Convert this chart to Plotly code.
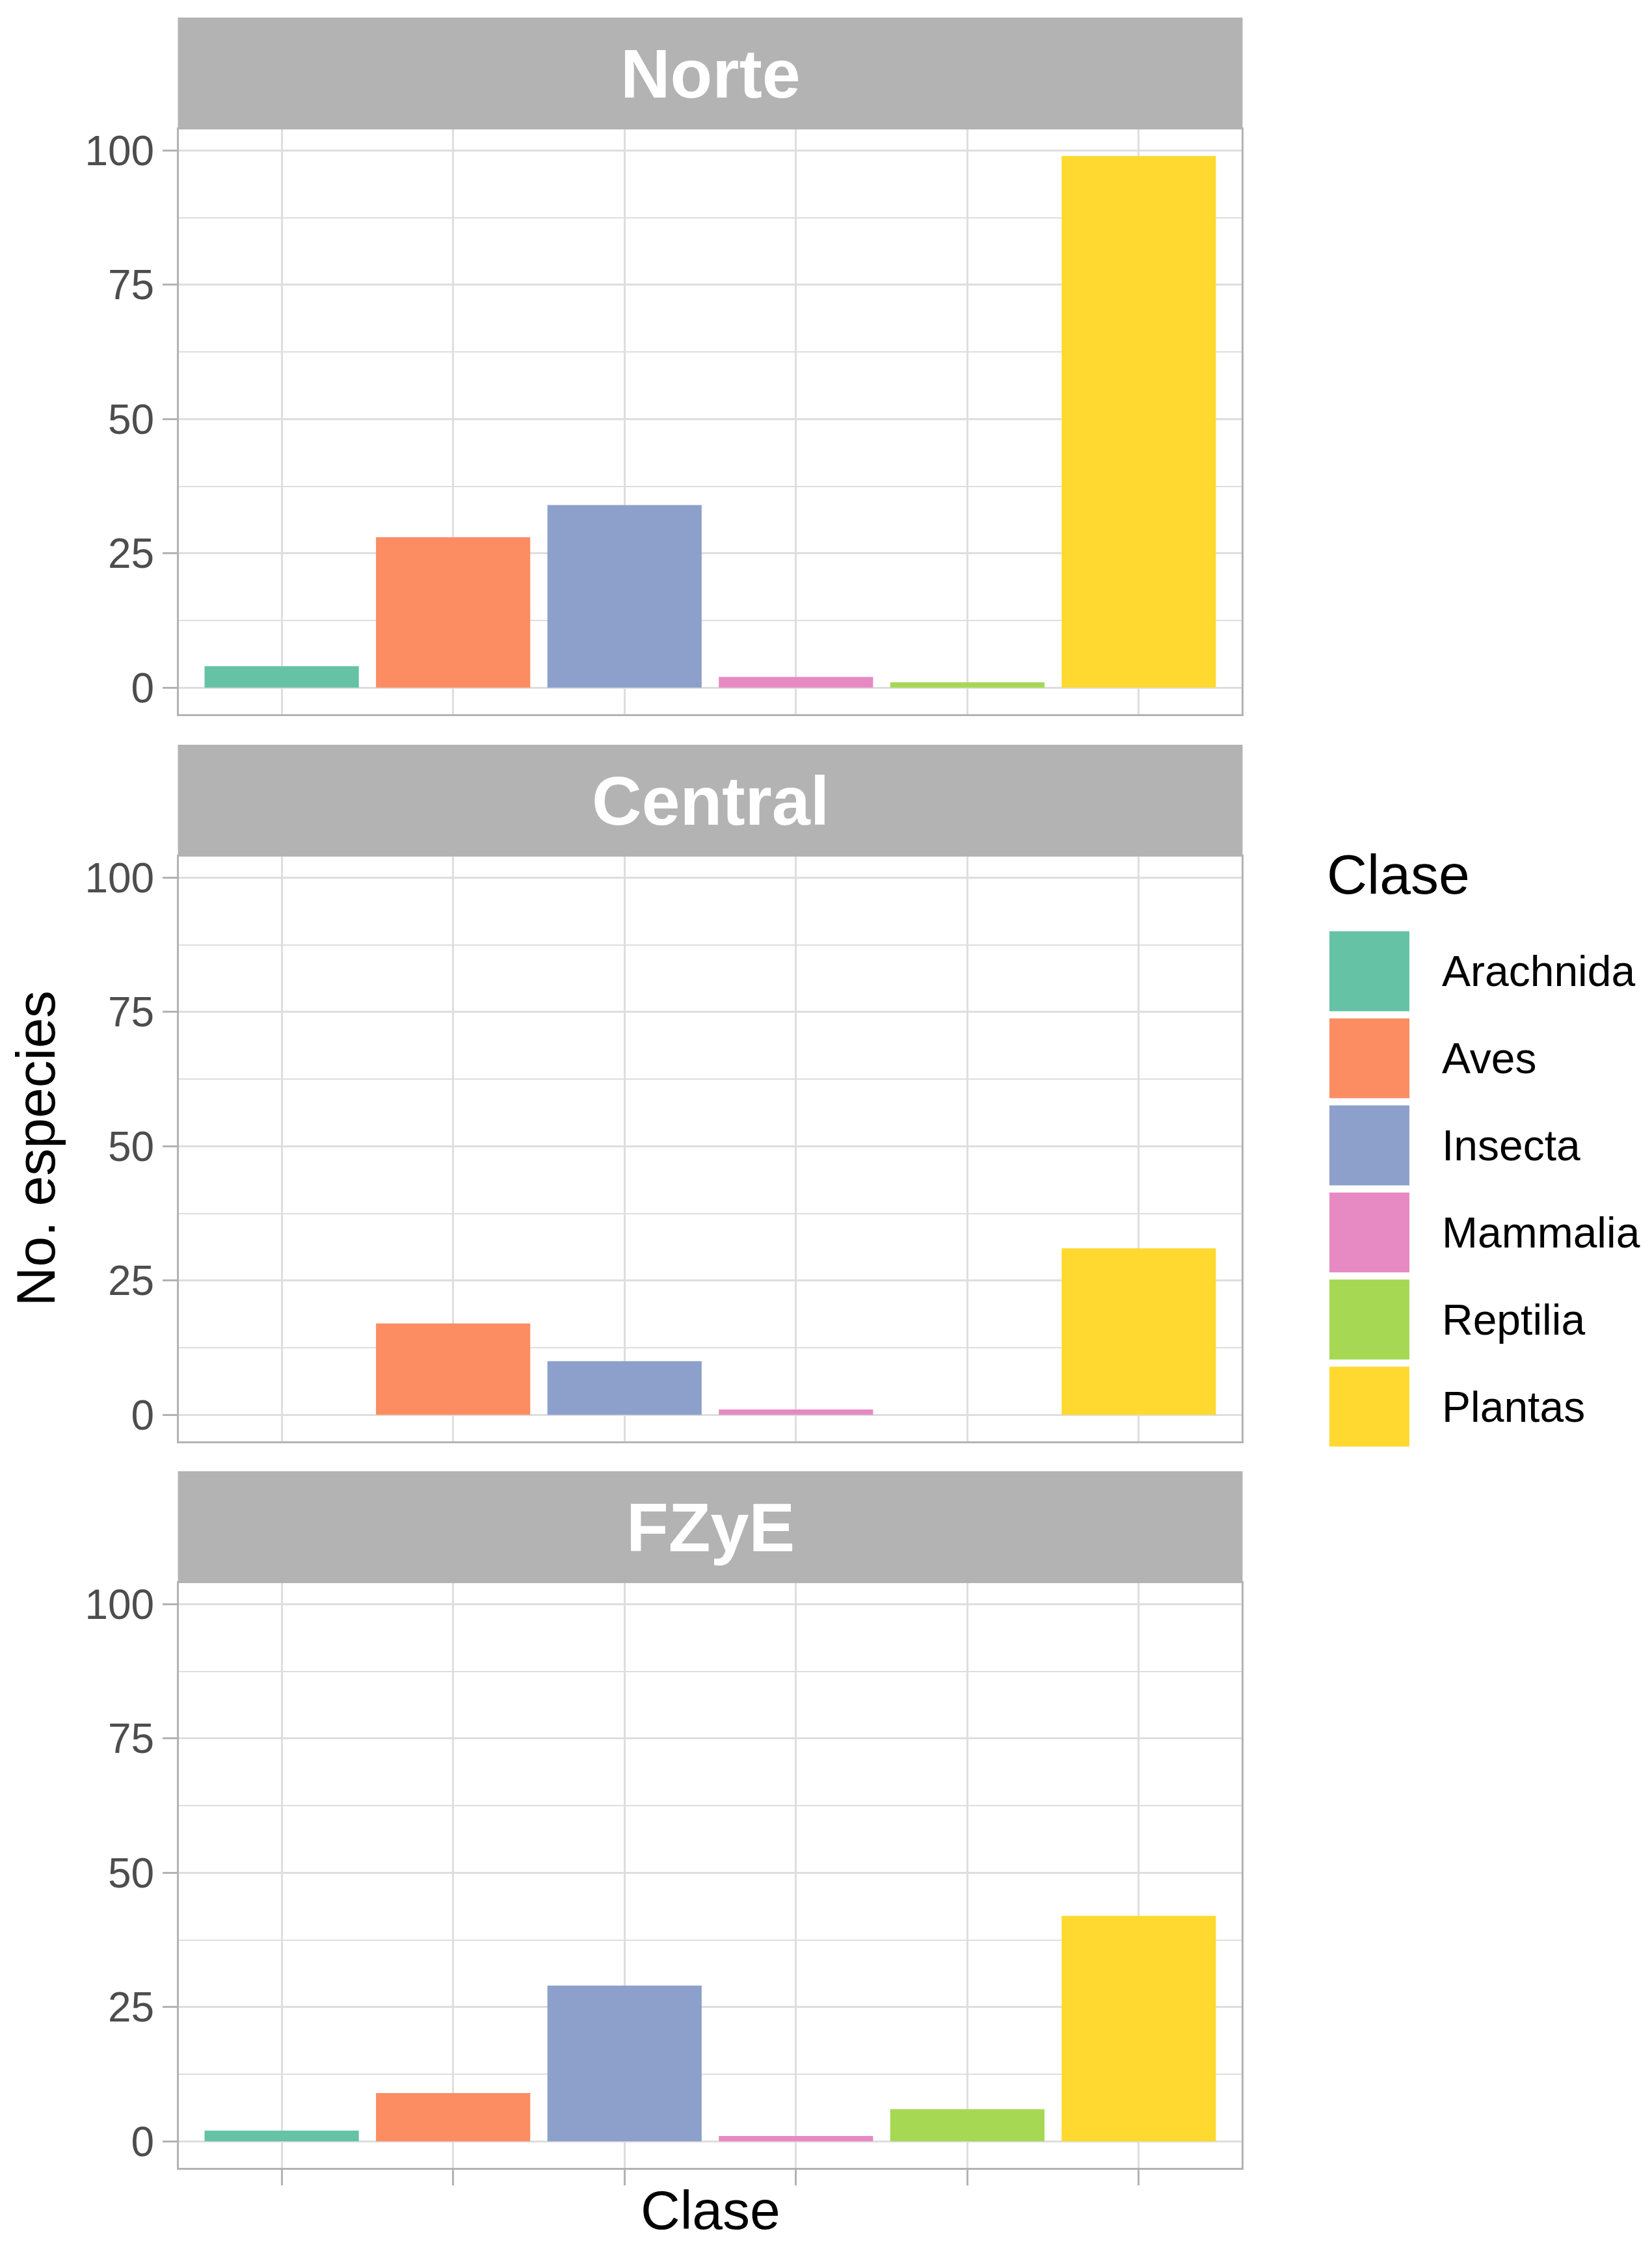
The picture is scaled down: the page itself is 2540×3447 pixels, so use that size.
import plotly.graph_objects as go

# ---- data ----
clases = ["Arachnida", "Aves", "Insecta", "Mammalia", "Reptilia", "Plantas"]
regiones = ["Norte", "Central", "FZyE"]
norte = [4, 28, 34, 2, 1, 99]
central = [None, 17, 10, 1, None, 31]
fzye = [2, 9, 29, 1, 6, 42]
valores = [norte, central, fzye]
colores = ["#66C2A5", "#FC8D62", "#8DA0CB", "#E78AC3", "#A6D854", "#FFD92F"]
y_ticks = [0, 25, 50, 75, 100]
y_minor = [12.5, 37.5, 62.5, 87.5]

# ---- layout geometry (pixels in the 2540x3447 page) ----
PAGE_W, PAGE_H = 2540, 3447
OFF = 8  # default browser body margin shifts the figure by 8px
W, H = PAGE_W - OFF, PAGE_H - OFF
FONT = "Liberation Sans, Arial, Helvetica, sans-serif"
GRID = "#DEDEDE"
BORDER = "#B3B3B3"
x_left, x_right = 275, 1909
strip_tops = [24, 1143, 2261]
strip_h = 172
panel_h = 900


def fx(p):
    return (p - OFF) / W


def fy(p):
    return 1 - (p - OFF) / H


fig = go.Figure()
layout = dict(
    width=W, height=H,
    margin=dict(l=0, r=0, t=0, b=0),
    paper_bgcolor="white", plot_bgcolor="white",
    barmode="overlay", showlegend=False,
    font=dict(family=FONT),
)
shapes, annotations = [], []

for i, (reg, vals) in enumerate(zip(regiones, valores)):
    n = "" if i == 0 else str(i + 1)
    fig.add_trace(go.Bar(
        x=clases, y=vals, width=0.9,
        marker=dict(color=colores, line=dict(width=0)),
        xaxis="x" + n, yaxis="y" + n, name=reg, hoverinfo="x+y",
    ))
    ptop = strip_tops[i] + strip_h
    pbot = ptop + panel_h
    bottom = i == len(regiones) - 1
    layout["xaxis" + n] = dict(
        domain=[fx(x_left), fx(x_right)], anchor="y" + n,
        type="category", categoryorder="array", categoryarray=clases,
        range=[-0.6, len(clases) - 0.4],
        showgrid=True, gridcolor=GRID, gridwidth=3,
        showticklabels=False,
        ticks="outside" if bottom else "", ticklen=24, tickwidth=3, tickcolor=BORDER,
        showline=True, mirror=True, linecolor=BORDER, linewidth=3,
        zeroline=False, fixedrange=True,
    )
    layout["yaxis" + n] = dict(
        domain=[fy(pbot), fy(ptop)], anchor="x" + n,
        range=[-4.95, 103.95],
        tickmode="array", tickvals=y_ticks,
        ticks="outside", ticklen=22, tickwidth=3, tickcolor=BORDER,
        tickfont=dict(size=64, color="#4D4D4D", family=FONT),
        showgrid=True, gridcolor=GRID, gridwidth=3,
        minor=dict(tickmode="array", tickvals=y_minor, showgrid=True,
                   gridcolor=GRID, gridwidth=2, ticks=""),
        showline=True, mirror=True, linecolor=BORDER, linewidth=3,
        zeroline=False, fixedrange=True,
    )
    # facet strip
    shapes.append(dict(type="rect", xref="paper", yref="paper",
                       x0=fx(x_left - 1.5), x1=fx(x_right + 1.5),
                       y0=fy(ptop), y1=fy(strip_tops[i]),
                       fillcolor=BORDER, line=dict(width=0), layer="above"))
    annotations.append(dict(text="<b>%s</b>" % reg, xref="paper", yref="paper",
                            x=fx((x_left + x_right) / 2), y=fy(strip_tops[i] + strip_h / 2),
                            xanchor="center", yanchor="middle", showarrow=False,
                            font=dict(size=106, color="white", family=FONT)))

# axis titles
annotations.append(dict(text="Clase", xref="paper", yref="paper",
                        x=fx((x_left + x_right) / 2), y=fy(3398),
                        xanchor="center", yanchor="middle", showarrow=False,
                        font=dict(size=84, color="black", family=FONT)))
annotations.append(dict(text="No. especies", xref="paper", yref="paper",
                        x=fx(55), y=fy(1764), textangle=-90,
                        xanchor="center", yanchor="middle", showarrow=False,
                        font=dict(size=84, color="black", family=FONT)))

# legend (drawn manually to match large ggplot keys)
annotations.append(dict(text="Clase", xref="paper", yref="paper",
                        x=fx(2038), y=fy(1342), xanchor="left", yanchor="middle",
                        showarrow=False, font=dict(size=86, color="black", family=FONT)))
key_top0, key_pitch, key_size = 1430, 134, 123
for j, (c, col) in enumerate(zip(clases, colores)):
    t = key_top0 + j * key_pitch
    shapes.append(dict(type="rect", xref="paper", yref="paper",
                       x0=fx(2044), x1=fx(2044 + key_size),
                       y0=fy(t + key_size), y1=fy(t),
                       fillcolor=col, line=dict(width=0)))
    annotations.append(dict(text=c, xref="paper", yref="paper",
                            x=fx(2215), y=fy(t + key_size / 2),
                            xanchor="left", yanchor="middle", showarrow=False,
                            font=dict(size=66, color="black", family=FONT)))

layout["shapes"] = shapes
layout["annotations"] = annotations
fig.update_layout(**layout)
fig.write_html("out.html")
